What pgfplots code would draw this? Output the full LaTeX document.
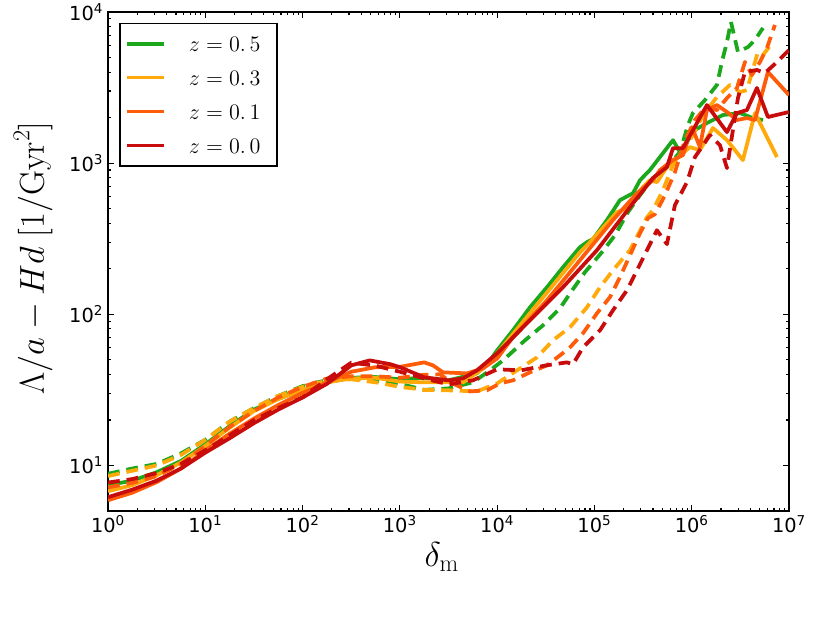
\RequirePackage{fix-cm}
\documentclass[border=0pt]{standalone}
\usepackage[no-math]{fontspec}
\newfontfamily\dejavu{DejaVu Sans}
\usepackage{pgfplots}
\pgfplotsset{compat=1.18}
\definecolor{cg}{RGB}{28,168,28}
\definecolor{co}{RGB}{255,170,10}
\definecolor{cor}{RGB}{255,92,10}
\definecolor{cr}{RGB}{200,12,12}
\begin{document}
\begin{tikzpicture}
\path[use as bounding box] (-77.8bp,-80.6bp) rectangle (519.8bp,367.9bp);
\begin{axis}[
  at={(0,0)}, anchor=south west,
  scale only axis, width=490.3bp, height=359.3bp,
  xmode=log, ymode=log,
  xmin=1, xmax=1e7, ymin=5, ymax=1e4,
  axis line style={line width=1.1bp},
  tick align=inside,
  major tick length=4.3bp, minor tick length=2.4bp,
  every tick/.style={black, line width=0.8bp},
  xtick={1,10,100,1000,10000,100000,1000000,10000000},
  xticklabels={10\textsuperscript{0},10\textsuperscript{1},10\textsuperscript{2},10\textsuperscript{3},10\textsuperscript{4},10\textsuperscript{5},10\textsuperscript{6},10\textsuperscript{7}},
  ytick={10,100,1000,10000},
  yticklabels={10\textsuperscript{1},10\textsuperscript{2},10\textsuperscript{3},10\textsuperscript{4}},
  ticklabel style={font=\dejavu\fontsize{14}{16}\selectfont},
  xlabel={$\delta_{\mathrm{m}}$},
  ylabel={$\Lambda/a-Hd\;[1/\mathrm{Gyr}^2]$},
  xlabel style={font=\fontsize{25}{30}\selectfont, at={(axis description cs:0.49,-0.092)}, anchor=center},
  ylabel style={font=\fontsize{25}{30}\selectfont, at={(axis description cs:-0.110,0.507)}, anchor=center},
  no markers,
  every axis plot/.append style={line width=2.7bp, line join=round},
  legend cell align=left,
  legend image code/.code={\draw[#1, line width=2.5bp] (0bp,0bp) -- (26.6bp,0bp);},
  legend style={at={(axis description cs:0.0162,0.978)}, anchor=north west,
    draw=black, line width=1.1bp, inner xsep=4bp, inner ysep=9bp, row sep=13.5bp,
    font=\fontsize{16}{18}\selectfont,
    nodes={inner xsep=8bp, inner ysep=0pt, text height=11pt, text depth=0pt},
    /tikz/every odd column/.append style={column sep=8.6bp}},
]
% z = 0.5 solid
\addplot[cg] coordinates {(1,7.41) (1.778,7.94) (3.162,9.02) (5.623,10.72) (10,13.80) (17.78,18.20) (31.62,23.44) (56.23,27.54) (100,31.62) (177.8,35.48) (316.2,38.02) (562.3,38.46) (1000,37.15) (1778,38.02) (3162,36.56) (6166,40.64) (8433,49.55) (10000,57.81) (14520,78.34) (21730,111.2) (32510,151.0) (47430,204.6) (70960,278.0) (83750,299.9) (96600,314.1) (134300,419.8) (182800,568.9) (248900,632.4) (293800,770.9) (371500,899.5) (641200,1419) (756800,1183) (1079000,1656) (1432000,1841) (2094000,2080) (3126000,2143) (4256000,1986) (5395000,1928)};
\addlegendentry{$z=0.\,5$}
\addplot[cg, dash pattern=on 8.5bp off 5bp, forget plot] coordinates {(1,8.81) (1.778,9.55) (3.162,10.23) (5.623,12.02) (10,14.79) (17.78,19.50) (31.62,23.99) (56.23,28.84) (100,33.50) (177.8,36.73) (316.2,37.58) (562.3,36.31) (1000,34.67) (1778,31.62) (3162,32.36) (5636,35.48) (8433,42.56) (11480,49.55) (19320,67.30) (29580,84.53) (44160,109.6) (60120,146.6) (79800,189.7) (119400,257.6) (162600,333.4) (220800,473.2) (293800,613.8) (399000,796.2) (555900,941.9) (756800,1183) (914100,1786) (1028000,2143) (1368000,2612) (1816000,3289) (2042000,4667) (2301000,6324) (2529000,8590) (2985000,5433) (3784000,5861) (4467000,6531) (5395000,7834)};
% z = 0.3 solid
\addplot[co] coordinates {(1,6.76) (1.778,7.41) (3.162,8.61) (5.623,10.47) (10,13.49) (17.78,17.78) (31.62,22.91) (56.23,27.54) (100,31.62) (177.8,35.48) (316.2,37.58) (562.3,38.02) (1000,35.89) (1778,35.48) (3162,35.48) (4457,35.48) (6982,43.25) (10000,55.21) (21730,101.6) (47430,187.1) (70960,257.0) (89950,300.0) (170200,473.2) (215800,503.5) (314800,693.4) (371500,770.9) (438500,748.2) (555900,941.9) (957200,1276) (1213000,1219) (1652000,1706) (2301000,1419) (3357000,1047) (4467000,2143) (7516000,1096)};
\addlegendentry{$z=0.\,3$}
\addplot[co, dash pattern=on 8.5bp off 5bp, forget plot] coordinates {(1,8.51) (1.778,9.23) (3.162,10.0) (5.623,11.75) (10,14.79) (17.78,19.50) (31.62,23.99) (56.23,28.84) (100,33.11) (177.8,36.31) (316.2,37.15) (562.3,35.48) (1000,33.11) (1778,31.62) (3162,31.41) (6194,30.90) (10000,34.91) (16000,42.56) (25640,51.88) (37500,67.30) (55980,82.04) (83750,111.2) (114000,151.0) (154900,195.4) (231700,265.5) (346700,438.5) (399000,488.7) (505800,662.2) (641200,970.5) (812800,1219) (1028000,1531) (1303000,2080) (1816000,2735) (2472000,3289) (3126000,2951) (3690000,3041) (4786000,5433) (5395000,5188) (6823000,6324)};
% z = 0.1 solid
\addplot[cor] coordinates {(1,5.89) (1.778,6.61) (3.162,7.76) (5.623,9.55) (10,12.59) (17.78,16.22) (31.62,20.42) (56.23,25.12) (100,30.20) (177.8,35.48) (316.2,41.69) (562.3,44.67) (1000,44.9) (1778,48.08) (2188,45.92) (2773,41.30) (4898,40.64) (7145,43.85) (10000,51.05) (14520,70.47) (32510,123.9) (70960,228.0) (154900,419.8) (273500,632.4) (399000,770.9) (471000,899.5) (641200,1047) (812800,1130) (1005000,1730) (1213000,1276) (1432000,2244) (1816000,2421) (2301000,2178) (2917000,1928) (3690000,1986) (4467000,1928) (6067000,4009) (10000000,2818)};
\addlegendentry{$z=0.\,1$}
\addplot[cor, dash pattern=on 8.5bp off 5bp, forget plot] coordinates {(1,7.16) (1.778,7.67) (3.162,8.51) (5.623,10.23) (10,13.49) (17.78,17.99) (31.62,22.91) (56.23,28.18) (100,33.11) (177.8,37.58) (316.2,38.90) (562.3,38.90) (1000,38.02) (1778,39.81) (2582,40.09) (3548,34.67) (5248,30.90) (7852,31.41) (10690,34.91) (14520,36.56) (21730,41.30) (32510,45.92) (44160,53.46) (55980,60.39) (76210,74.82) (106200,101.6) (144200,129.7) (182800,175.8) (293800,343.6) (354800,432.5) (418800,459.2) (530900,613.8) (671400,871.0) (851100,1419) (1079000,1928) (1368000,2312) (1816000,2244) (2301000,2692) (2917000,3141) (3524000,4667) (4159000,3828) (5023000,4667) (5929000,5781) (7161000,8204)};
% z = 0.0 solid
\addplot[cr] coordinates {(1,6.17) (1.778,6.92) (3.162,7.94) (5.623,9.55) (10,12.16) (17.78,15.14) (31.62,19.05) (56.23,23.44) (100,28.18) (177.8,34.67) (316.2,45.92) (489.8,49.55) (794.3,46.77) (1000,44.67) (1778,38.28) (3162,36.56) (4457,37.67) (6194,42.56) (10000,55.21) (21730,91.2) (47430,151.0) (106200,265.5) (231700,511.7) (399000,796.2) (555900,941.9) (641200,1256) (812800,1256) (1432000,2421) (2301000,1603) (2917000,2143) (3690000,2244) (4677000,3141) (6067000,2018) (10000000,2178)};
\addlegendentry{$z=0.\,0$}
\addplot[cr, dash pattern=on 8.5bp off 5bp, forget plot] coordinates {(1,7.71) (1.778,8.13) (3.162,8.91) (5.623,10.23) (10,12.59) (17.78,15.85) (31.62,19.95) (56.23,23.99) (100,28.18) (177.8,37.15) (316.2,47.86) (562.3,45.71) (1000,41.69) (1778,37.67) (3162,34.36) (5623,36.56) (10000,43.25) (17580,42.56) (31770,45.92) (52120,48.08) (60120,46.67) (76210,60.39) (114000,78.34) (154900,106.2) (215800,144.2) (273500,195.4) (346700,265.5) (438500,359.7) (555900,291.1) (671400,527.2) (893300,748.2) (1079000,1096) (1538000,1531) (1950000,1315) (2301000,926.8) (2985000,2692) (3524000,4009) (4677000,4130) (5649000,3945) (7161000,4529) (10000000,5598)};
\end{axis}
\end{tikzpicture}
\end{document}
